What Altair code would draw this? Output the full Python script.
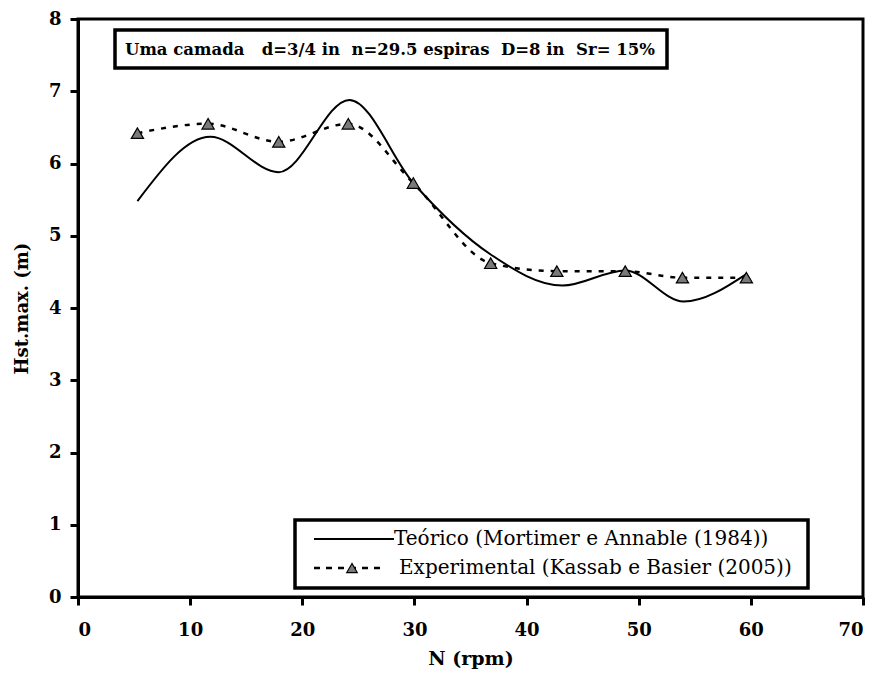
import altair as alt
import pandas as pd

# ---- data ----
N_exp = [5.3, 11.6, 17.9, 24.1, 29.9, 36.8, 42.7, 48.8, 53.9, 59.6]
H_exp = [6.42, 6.55, 6.30, 6.55, 5.73, 4.62, 4.51, 4.51, 4.42, 4.42]

N_teo = [5.3, 11.8, 17.9, 24.2, 29.9, 36.8, 43.2, 48.8, 54.0, 59.6]
H_teo = [5.48, 6.37, 5.88, 6.88, 5.73, 4.74, 4.31, 4.52, 4.09, 4.47]

x_ticks = [0, 10, 20, 30, 40, 50, 60, 70]
y_ticks = [0, 1, 2, 3, 4, 5, 6, 7, 8]

NB = "\u00a0"
box_text = f"Uma camada{NB*3}d=3/4 in{NB*2}n=29.5 espiras{NB*2}D=8 in{NB*2}Sr= 15%"
leg_teo = "Teórico (Mortimer e Annable (1984))"
leg_exp = "Experimental (Kassab e Basier (2005))"

FONT = "DejaVu Serif"
W, H = 785, 578

exp_df = pd.DataFrame({"N": N_exp, "H": H_exp})
teo_df = pd.DataFrame({"N": N_teo, "H": H_teo})
one = pd.DataFrame({"k": [0]})

xs = alt.Scale(domain=[0, 70], nice=False, zero=False)
ys = alt.Scale(domain=[0, 8], nice=False)

x_axis = alt.Axis(values=x_ticks, title="N (rpm)", grid=False, format="d",
                  labelFont=FONT, labelFontWeight="bold", labelFontSize=18,
                  titleFont=FONT, titleFontSize=19, titleFontWeight="bold",
                  domainColor="black", domainWidth=3, tickColor="black",
                  tickWidth=3, tickSize=8, labelPadding=16, titlePadding=10,
                  labelColor="black", titleColor="black")
y_axis = alt.Axis(values=y_ticks, title="Hst.max. (m)", grid=False, format="d",
                  labelFont=FONT, labelFontWeight="bold", labelFontSize=18,
                  titleFont=FONT, titleFontSize=18, titleFontWeight="bold",
                  domainColor="black", domainWidth=3, tickColor="black",
                  tickWidth=3, tickSize=8, labelPadding=9, titlePadding=17,
                  labelColor="black", titleColor="black")

teo = alt.Chart(teo_df).mark_line(color="black", strokeWidth=2, interpolate="monotone").encode(
    x=alt.X("N:Q", scale=xs, axis=x_axis),
    y=alt.Y("H:Q", scale=ys, axis=y_axis),
)
exp_line = alt.Chart(exp_df).mark_line(color="black", strokeWidth=2.5, strokeDash=[5, 7],
                                       interpolate="monotone").encode(
    x=alt.X("N:Q", scale=xs), y=alt.Y("H:Q", scale=ys))
exp_pts = alt.Chart(exp_df).mark_point(shape="triangle-up", filled=True, fill="#7a7a7a",
                                       stroke="black", strokeWidth=1.2, size=150, opacity=1).encode(
    x=alt.X("N:Q", scale=xs), y=alt.Y("H:Q", scale=ys))

def box(x1, x2, y1, y2):
    return alt.Chart(one).mark_rect(fill="white", stroke="black", strokeWidth=3.5).encode(
        x=alt.value(x1), x2=alt.value(x2), y=alt.value(y1), y2=alt.value(y2))

title_box = box(37, 589, 11, 49)
title_txt = alt.Chart(one).mark_text(text=box_text, font=FONT, fontSize=16.5, fontWeight="bold",
                                     align="left", baseline="middle", color="black").encode(
    x=alt.value(47), y=alt.value(31))

leg_box = box(217, 730, 501, 569)
leg_l1 = alt.Chart(one).mark_rule(color="black", strokeWidth=2).encode(
    x=alt.value(236), x2=alt.value(316), y=alt.value(520))
leg_l2 = alt.Chart(one).mark_rule(color="black", strokeWidth=2.5, strokeDash=[6, 6]).encode(
    x=alt.value(236), x2=alt.value(304), y=alt.value(549))
leg_p2 = alt.Chart(one).mark_point(shape="triangle-up", filled=True, fill="#7a7a7a",
                                   stroke="black", strokeWidth=1.2, size=110, opacity=1).encode(
    x=alt.value(274), y=alt.value(549))
leg_t1 = alt.Chart(one).mark_text(text=leg_teo, font=FONT, fontSize=20,
                                  align="left", baseline="middle", color="black").encode(
    x=alt.value(316), y=alt.value(520))
leg_t2 = alt.Chart(one).mark_text(text=leg_exp, font=FONT, fontSize=20,
                                  align="left", baseline="middle", color="black").encode(
    x=alt.value(321), y=alt.value(549))

chart = alt.layer(
    teo, exp_line, exp_pts,
    title_box, title_txt,
    leg_box, leg_l1, leg_l2, leg_p2, leg_t1, leg_t2,
).properties(
    width=W, height=H,
    padding={"left": 5, "top": 2, "right": 5, "bottom": 5},
).configure_view(stroke="black", strokeWidth=3)

chart.save("out.html", embed_options={"renderer": "svg", "actions": False})
